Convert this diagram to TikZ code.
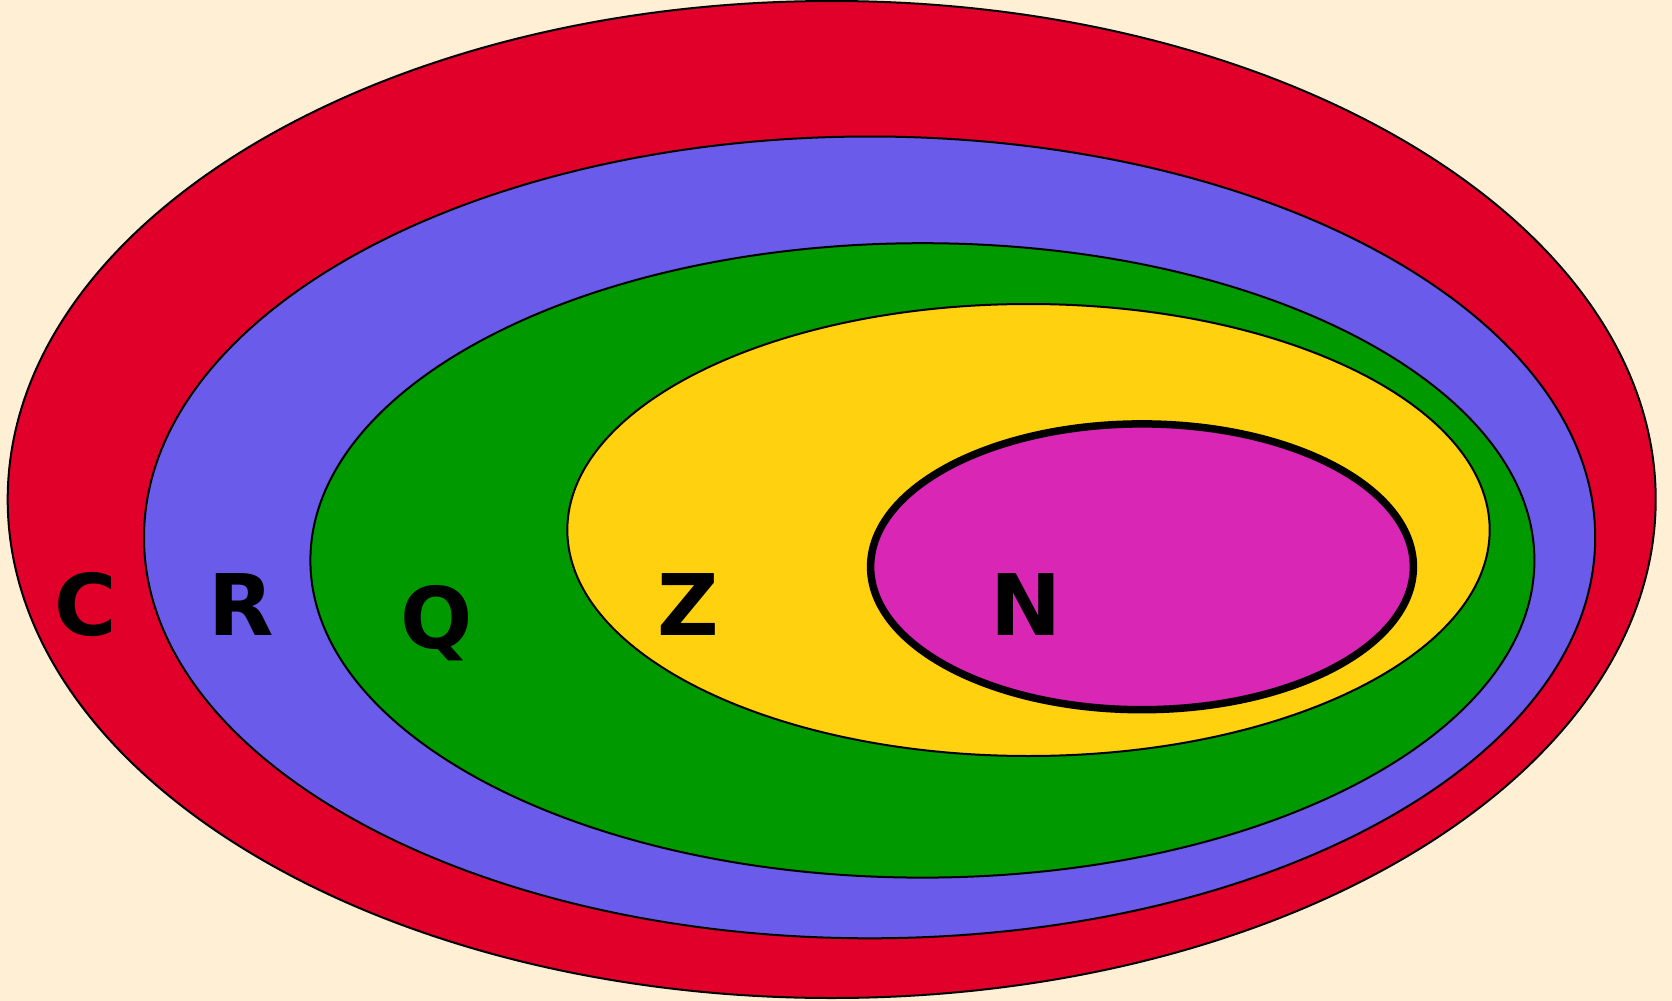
\documentclass[tikz,border=0pt]{standalone}
\usepackage{fontspec}
\setmainfont{DejaVu Sans}
\definecolor{bgc}{RGB}{255,239,213}
\definecolor{redc}{RGB}{224,0,42}
\definecolor{bluec}{RGB}{107,91,234}
\definecolor{greenc}{RGB}{0,153,0}
\definecolor{yellowc}{RGB}{255,209,14}
\definecolor{magc}{RGB}{217,38,181}
\tikzset{
  setline/.style={draw=black, line width=1pt},
  setlabel/.style={anchor=base, inner sep=0pt, font=\fontsize{42.5}{50}\selectfont\bfseries, text=black}
}
\begin{document}
\begin{tikzpicture}[x=0.5pt,y=-0.5pt]
\fill[bgc] (0,0) rectangle (1672,1001);
\useasboundingbox (0,0) rectangle (1672,1001);
\filldraw[setline, fill=redc] (831.7,499.5) ellipse [x radius=824, y radius=498.5];
\filldraw[setline, fill=bluec] (869.6,537.4) ellipse [x radius=725.6, y radius=400.9];
\filldraw[setline, fill=greenc] (922.4,560.4) ellipse [x radius=612, y radius=317.2];
\filldraw[setline, fill=yellowc] (1028.5,530) ellipse [x radius=461.2, y radius=226];
\filldraw[draw=black, line width=3.75pt, fill=magc] (1142,566.8) ellipse [x radius=271.4, y radius=142.9];
\node[setlabel] (C) at (86,635) {C};
\node[setlabel] (R) at (241,635) {R};
\node[setlabel] (Q) at (437,648) {Q};
\node[setlabel] (Z) at (688,635) {Z};
\node[setlabel] (N) at (1026,635) {N};
\end{tikzpicture}
\end{document}
